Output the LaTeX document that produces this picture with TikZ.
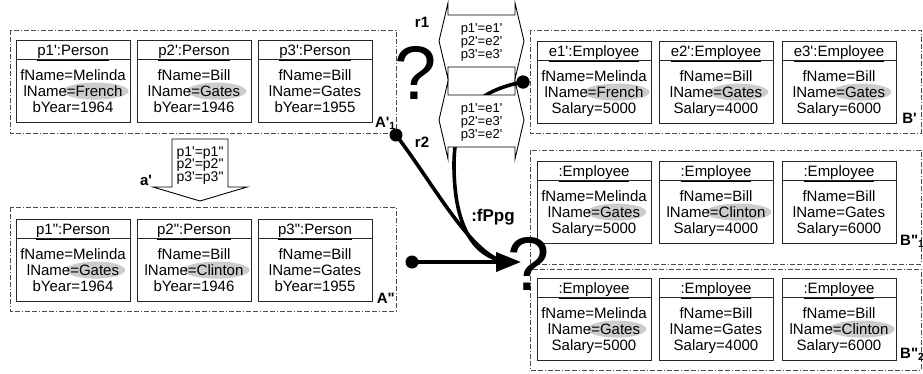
\documentclass[tikz,border=0pt]{standalone}
\usepackage{fontspec}
\newfontfamily\af{Liberation Sans}
\usetikzlibrary{arrows.meta,backgrounds,calc}
\definecolor{hlgray}{gray}{0.8}
\newcommand\attfont{\af\fontsize{15}{15}\selectfont}
\tikzset{
  grp/.style={draw=black!70, line width=0.8pt, dash pattern=on 5pt off 2pt on 5pt off 2pt on 1pt off 2pt},
  objline/.style={draw=black!85, line width=1pt},
  att/.style={inner sep=0pt, anchor=base, font=\attfont},
  rtxt/.style={inner sep=0pt, anchor=base, font=\af\fontsize{13}{13}\selectfont},
  atxt/.style={inner sep=0pt, anchor=base, font=\af\fontsize{14}{14}\selectfont},
  lbl/.style={inner sep=0pt, font=\af\bfseries\fontsize{15}{15}\selectfont},
  conn/.style={line width=3.6pt},
  ball/.style={circle, fill=black, inner sep=0pt, minimum size=13pt},
  qmark/.style={inner sep=0pt, font=\af\fontsize{76}{76}\selectfont},
  arrowbox/.style={draw, fill=white, line width=0.9pt, line join=miter},
}
\newcommand\objbox[8]{%
  \draw[objline] (#2,#3) rectangle ++(114,82);
  \draw[objline] (#2,#3+19) -- ++(114,0);
  \node[att] (#1h) at (#2+57,#3+15.5) {\underline{#4}};
  \node[att] (#1a) at (#2+57,#3+40.5) {#5};
  \node[att] (#1b) at (#2+57,#3+56.5) {#6#7};
  \node[att] (#1c) at (#2+57,#3+72.5) {#8};
  \if\relax\detokenize{#7}\relax\else
    \node[att, anchor=base east] (#1x) at (#1b.base east) {\phantom{#7}};
    \begin{scope}[on background layer]
      \fill[hlgray] let \p1=(#1x.base west), \p2=(#1x.base east) in
        ({0.5*(\x1+\x2)+1pt},{\y1+5.4pt}) ellipse [x radius={0.5*(\x2-\x1)+5pt}, y radius=8.5pt];
    \end{scope}
  \fi
}
\begin{document}
\begin{tikzpicture}[x=1pt,y=-1pt]
\useasboundingbox (0,0) rectangle (923,373);
% group frames
\draw[grp] (10,30) rectangle (396,133);
\draw[grp] (10,207) rectangle (396,311);
\draw[grp] (530,30) rectangle (921,133);
\draw[grp] (530,150) rectangle (921,264);
\draw[grp] (530,269) rectangle (921,370);
% objects
\objbox{p1}{16}{40}{p1':Person}{fName=Melinda}{lName}{=French}{bYear=1964}
\objbox{p2}{137}{40}{p2':Person}{fName=Bill}{lName}{=Gates}{bYear=1946}
\objbox{p3}{258}{40}{p3':Person}{fName=Bill}{lName=Gates}{}{bYear=1955}
\objbox{q1}{16}{219}{p1":Person}{fName=Melinda}{lName}{=Gates}{bYear=1964}
\objbox{q2}{137}{219}{p2":Person}{fName=Bill}{lName}{=Clinton}{bYear=1946}
\objbox{q3}{258}{219}{p3":Person}{fName=Bill}{lName=Gates}{}{bYear=1955}
\objbox{e1}{537}{41}{e1':Employee}{fName=Melinda}{lName}{=French}{Salary=5000}
\objbox{e2}{659}{41}{e2':Employee}{fName=Bill}{lName}{=Gates}{Salary=4000}
\objbox{e3}{782}{41}{e3':Employee}{fName=Bill}{lName}{=Gates}{Salary=6000}
\objbox{f1}{537}{161}{:Employee}{fName=Melinda}{lName}{=Gates}{Salary=5000}
\objbox{f2}{659}{161}{:Employee}{fName=Bill}{lName}{=Clinton}{Salary=4000}
\objbox{f3}{782}{161}{:Employee}{fName=Bill}{lName=Gates}{}{Salary=6000}
\objbox{g1}{537}{278}{:Employee}{fName=Melinda}{lName}{=Gates}{Salary=5000}
\objbox{g2}{659}{278}{:Employee}{fName=Bill}{lName=Gates}{}{Salary=4000}
\objbox{g3}{782}{278}{:Employee}{fName=Bill}{lName}{=Clinton}{Salary=6000}
% group labels
\node[lbl, anchor=base east] (la1) at (396,127) {A'\textsubscript{1}};
\node[lbl, anchor=base east] (la2) at (395,303) {A"};
\node[lbl, anchor=base east] (lb1) at (917,123) {B'};
\node[lbl, anchor=base west] (lb2) at (900,245) {B"\textsubscript{1}};
\node[lbl, anchor=base west] (lb3) at (900,358) {B"\textsubscript{2}};
% a' arrow
\draw[arrowbox] (172,139) -- (228,139) -- (228,187) -- (247,187) -- (200,201) -- (153,187) -- (172,187) -- cycle;
\node[atxt] (a1) at (200,156) {p1'=p1"};
\node[atxt] (a2) at (200,168.5) {p2'=p2"};
\node[atxt] (a3) at (200,181) {p3'=p3"};
\node[lbl] (al) at (146,180) {a'};
% connectors
\node[ball] (k1) at (396,135) {};
\node[ball] (k2) at (412,262) {};
\node[ball] (k3) at (523,82) {};
\coordinate (tip) at (521,262);
\coordinate (join) at (499,260);
\draw[conn] (k1.center) .. controls (432,182) and (466,246) .. (join);
\draw[conn] (k3.center) .. controls (470,92) and (454,120) .. (454,165) .. controls (454,220) and (470,252) .. (join);
\draw[conn, -{Triangle[length=25pt,width=19pt]}] (k2.center) -- (tip);
% r1, r2
\draw[arrowbox] (448,15) -- (515,15) -- (515,3) -- (524,41) -- (515,79) -- (515,67) -- (448,67) -- (448,79) -- (439,41) -- (448,3) -- cycle;
\draw[arrowbox] (448,95) -- (515,95) -- (515,81) -- (524,120) -- (515,159) -- (515,147) -- (448,147) -- (448,159) -- (439,120) -- (448,81) -- cycle;
\node[rtxt] (t1) at (481.5,32.7) {p1'=e1'};
\node[rtxt] (t2) at (481.5,45.7) {p2'=e2'};
\node[rtxt] (t3) at (481.5,58.7) {p3'=e3'};
\node[rtxt] (t4) at (481.5,112.7) {p1'=e1'};
\node[rtxt] (t5) at (481.5,125.7) {p2'=e3'};
\node[rtxt] (t6) at (481.5,138.7) {p3'=e2'};
\node[lbl] (r1l) at (422,22) {r1};
\node[lbl] (r2l) at (422,142) {r2};
\node[ball] at (k3) {};
\node[lbl, font=\af\bfseries\fontsize{17}{17}\selectfont] (fp) at (493,217) {:fPpg};
% question marks
\node[qmark] (qa) at (416,73) {?};
\node[qmark] (qb) at (529,264) {?};
\end{tikzpicture}
\end{document}
